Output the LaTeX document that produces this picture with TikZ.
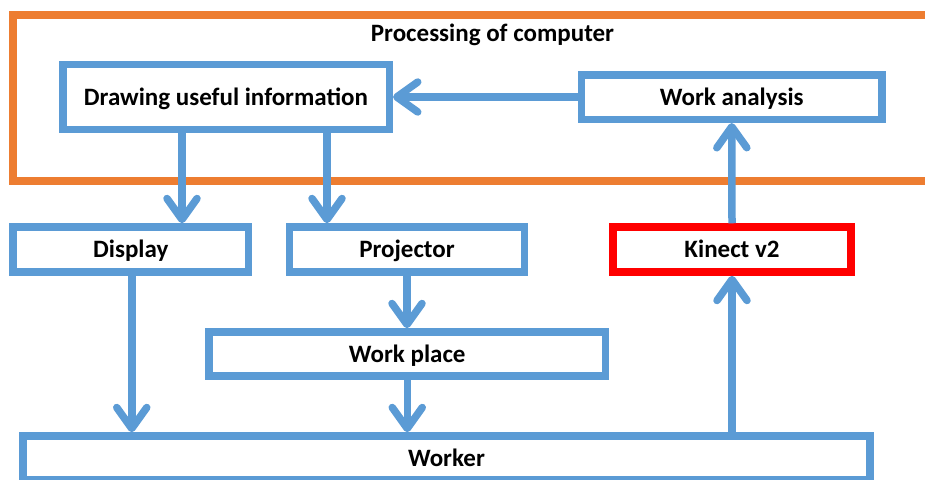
\documentclass[tikz,border=0pt]{standalone}
\usepackage{fontspec}
\setmainfont{Carlito}
\usetikzlibrary{arrows.meta}
\usetikzlibrary{positioning}
\definecolor{boxblue}{HTML}{5B9BD5}
\definecolor{procorange}{HTML}{ED7D31}
\definecolor{kinred}{HTML}{FF0000}
\tikzset{
  boxtext/.style={font=\fontsize{25}{30}\selectfont\bfseries, text height=16pt, text depth=0pt},
  unitbox/.style={boxtext, draw=boxblue, line width=7.5pt, fill=white, inner sep=0pt},
  kinbox/.style={unitbox, draw=kinred},
  procbox/.style={draw=procorange, line width=8pt, inner sep=0pt},
  flow/.style={draw=boxblue, line width=7.5pt,
    -{Straight Barb[length=21pt, width=30pt, line cap=round, line join=round]}}
}

\begin{document}
\begin{tikzpicture}[x=1pt, y=-1pt]

        \useasboundingbox (0,0) rectangle (925,479);

        % frame of the computer part
        \node [procbox, minimum width=922pt, minimum height=166pt] (proc) at (474,98) {};

        \node [boxtext, inner sep=0pt] (proctitle) at (492.5,33.5) {Processing of computer};

        \node [unitbox, minimum width=326.5pt, minimum height=65pt] (dui) at (226,97) {Drawing useful information};

        \node [unitbox, minimum width=300.5pt, minimum height=44.5pt] (wa) at (731.75,97) {Work analysis};

        % devices
        \node [unitbox, minimum width=235.5pt, minimum height=45pt] (disp) at (130.75,249.5) {Display};

        \node [unitbox, minimum width=235pt, minimum height=45pt] (proj) at (407,249.5) {Projector};

        \node [kinbox, minimum width=238pt, minimum height=45pt] (kin) at (732,249.5) {Kinect v2};

        \node [unitbox, minimum width=396.5pt, minimum height=44pt] (wp) at (407.25,354) {Work place};

        \node [unitbox, minimum width=847pt, minimum height=44pt] (worker) at (446.5,458) {Worker};

        % flows
        \draw [flow] (wa.west) -- (dui.east);

        \draw [flow] ([xshift=-44pt]dui.south) -- ([xshift=-44pt]dui.south |- disp.north);

        \draw [flow] ([xshift=101pt]dui.south) -- ([xshift=101pt]dui.south |- proj.north);

        \draw [flow] (proj.south) -- (proj.south |- wp.north);

        \draw [flow] ([xshift=1pt]disp.south) -- ([xshift=1pt]disp.south |- worker.north);

        \draw [flow] (wp.south) -- (wp.south |- worker.north);

        \draw [flow] (kin.south |- worker.north) -- (kin.south);

        \draw [flow] (kin.north) -- (wa.south);

\end{tikzpicture}
\end{document}
